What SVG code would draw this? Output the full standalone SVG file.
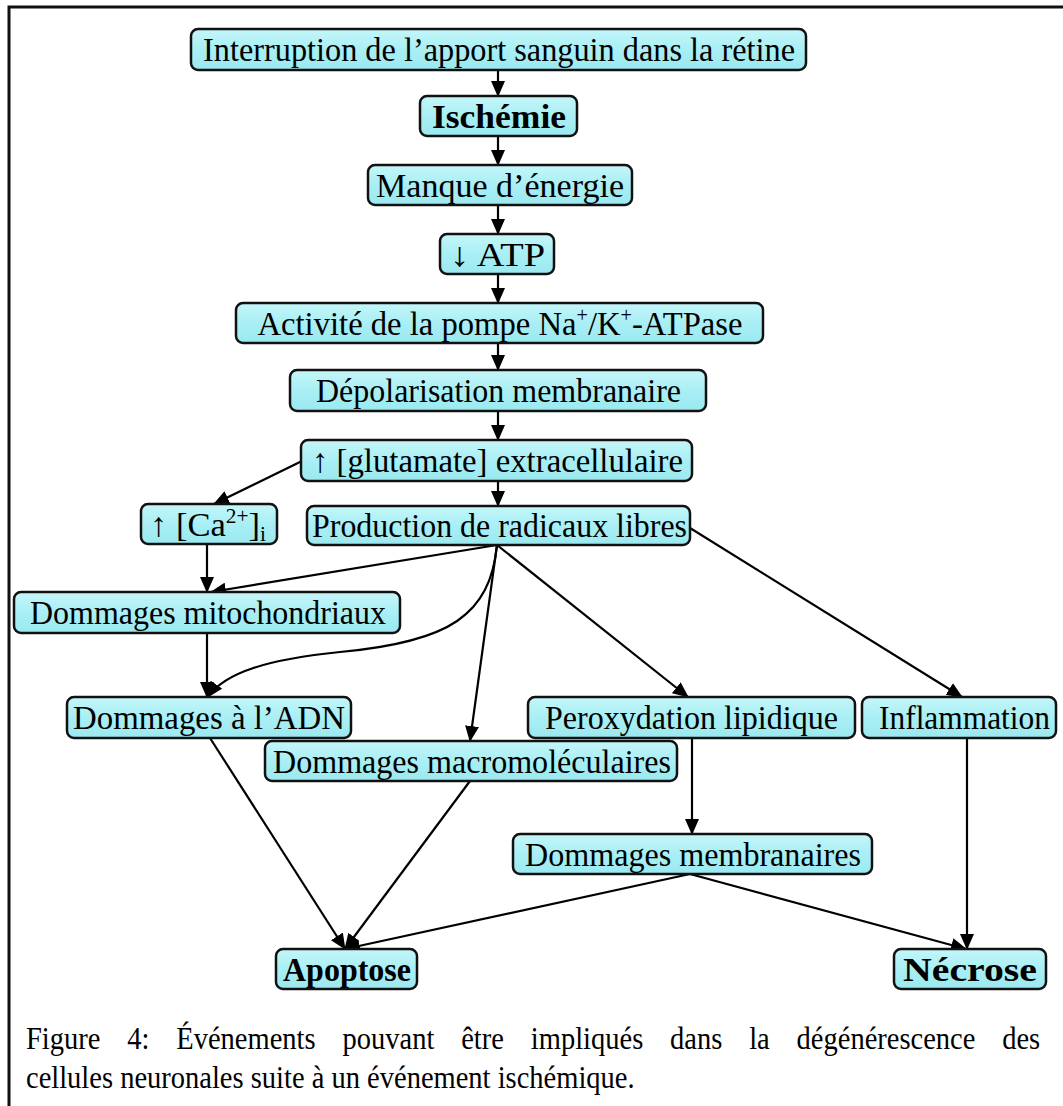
<svg xmlns="http://www.w3.org/2000/svg" width="1063" height="1106" viewBox="0 0 1063 1106">
<defs>
<linearGradient id="g" x1="0" y1="0" x2="0" y2="1">
<stop offset="0" stop-color="#c4f6f9"/>
<stop offset="0.5" stop-color="#a9eff5"/>
<stop offset="1" stop-color="#9ae9f0"/>
</linearGradient>
<marker id="ah" markerWidth="16" markerHeight="14" refX="15" refY="7" orient="auto" markerUnits="userSpaceOnUse">
<path d="M0,0 L16,7 L0,14 Z" fill="#000"/>
</marker>
<style>
.b{fill:url(#g);stroke:#111;stroke-width:2.5}
.t{font-family:"Liberation Serif","Times New Roman",serif;font-size:34px;fill:#000;text-anchor:middle}
.bd{font-weight:bold}
.sup{font-size:21px;baseline-shift:13px}
.sub{font-size:21px;baseline-shift:-5px}
.c{fill:none;stroke:#000;stroke-width:2.2;marker-end:url(#ah)}
.cap{font-family:"Liberation Serif","Times New Roman",serif;font-size:31px;fill:#000}
</style>
</defs>
<rect width="1063" height="1106" fill="#fff"/>
<path d="M9,1106 V7 H1063" fill="none" stroke="#111" stroke-width="3"/>

<g id="connectors">
<path class="c" d="M498,70 V96"/>
<path class="c" d="M498,136 V165"/>
<path class="c" d="M498,205 V234"/>
<path class="c" d="M498,274 V303"/>
<path class="c" d="M498,343 V370"/>
<path class="c" d="M498,411 V440"/>
<path class="c" d="M498,481 V506"/>
<path class="c" d="M302,461 L214,504"/>
<path class="c" d="M207,544 V592"/>
<path class="c" d="M497,545 L211,592"/>
<path class="c" d="M497,545 C490,615 450,642 340,652 C270,659 225,672 208,697"/>
<path class="c" d="M207,633 V697"/>
<path class="c" d="M497,545 L470,741"/>
<path class="c" d="M497,545 L688,697"/>
<path class="c" d="M690,528 L962,697"/>
<path class="c" d="M692,738 V834"/>
<path class="c" d="M967,738 V949"/>
<path class="c" d="M210,738 L345,949"/>
<path class="c" d="M470,781 L345,949"/>
<path class="c" d="M690,874 L345,949"/>
<path class="c" d="M690,874 L966,949"/>
</g>

<g id="n1"><rect class="b" x="191" y="29" width="615" height="41" rx="7"/><text class="t" x="499" y="61" textLength="592" lengthAdjust="spacingAndGlyphs">Interruption de l’apport sanguin dans la rétine</text></g>
<g id="n2"><rect class="b" x="420" y="96" width="157" height="40" rx="7"/><text class="t bd" x="499" y="128" textLength="134" lengthAdjust="spacingAndGlyphs">Ischémie</text></g>
<g id="n3"><rect class="b" x="368" y="165" width="264" height="40" rx="7"/><text class="t" x="500" y="197" textLength="248" lengthAdjust="spacingAndGlyphs">Manque d’énergie</text></g>
<g id="n4"><rect class="b" x="440" y="234" width="114" height="40" rx="7"/><text class="t" x="497.5" y="266" textLength="95" lengthAdjust="spacingAndGlyphs">↓ ATP</text></g>
<g id="n5"><rect class="b" x="236" y="303" width="527" height="40" rx="7"/><text class="t" x="500" y="335" textLength="485" lengthAdjust="spacingAndGlyphs">Activité de la pompe Na<tspan class="sup">+</tspan>/K<tspan class="sup">+</tspan>-ATPase</text></g>
<g id="n6"><rect class="b" x="290" y="370" width="416" height="41" rx="7"/><text class="t" x="498.5" y="402" textLength="365" lengthAdjust="spacingAndGlyphs">Dépolarisation membranaire</text></g>
<g id="n7"><rect class="b" x="301" y="440" width="391" height="41" rx="7"/><text class="t" x="497.5" y="472" textLength="371" lengthAdjust="spacingAndGlyphs">↑ [glutamate] extracellulaire</text></g>
<g id="n8"><rect class="b" x="141" y="504" width="136" height="40" rx="7"/><text class="t" x="208" y="536" textLength="116" lengthAdjust="spacingAndGlyphs">↑ [Ca<tspan class="sup">2+</tspan>]<tspan class="sub">i</tspan></text></g>
<g id="n9"><rect class="b" x="307" y="506" width="383" height="39" rx="7"/><text class="t" x="499.5" y="537" textLength="375" lengthAdjust="spacingAndGlyphs">Production de radicaux libres</text></g>
<g id="n10"><rect class="b" x="14" y="592" width="386" height="41" rx="7"/><text class="t" x="208" y="624" textLength="356" lengthAdjust="spacingAndGlyphs">Dommages mitochondriaux</text></g>
<g id="n11"><rect class="b" x="67" y="697" width="284" height="41" rx="7"/><text class="t" x="209" y="729" textLength="272" lengthAdjust="spacingAndGlyphs">Dommages à l’ADN</text></g>
<g id="n12"><rect class="b" x="528" y="697" width="327" height="41" rx="7"/><text class="t" x="691.5" y="729" textLength="293" lengthAdjust="spacingAndGlyphs">Peroxydation lipidique</text></g>
<g id="n13"><rect class="b" x="862" y="697" width="194" height="41" rx="7"/><text class="t" x="964.5" y="729" textLength="171" lengthAdjust="spacingAndGlyphs">Inflammation</text></g>
<g id="n14"><rect class="b" x="265" y="741" width="412" height="40" rx="7"/><text class="t" x="472" y="773" textLength="398" lengthAdjust="spacingAndGlyphs">Dommages macromoléculaires</text></g>
<g id="n15"><rect class="b" x="513" y="834" width="359" height="40" rx="7"/><text class="t" x="693" y="866" textLength="336" lengthAdjust="spacingAndGlyphs">Dommages membranaires</text></g>
<g id="n16"><rect class="b" x="276" y="949" width="141" height="40" rx="7"/><text class="t bd" x="347" y="981" textLength="128" lengthAdjust="spacingAndGlyphs">Apoptose</text></g>
<g id="n17"><rect class="b" x="894" y="949" width="152" height="40" rx="7"/><text class="t bd" x="970" y="981" textLength="134" lengthAdjust="spacingAndGlyphs">Nécrose</text></g>

<g id="caption">
<text class="cap" transform="scale(0.92,1)" y="1049"><tspan x="28.26">Figure</tspan> <tspan x="138.37">4:</tspan> <tspan x="191.63">Événements</tspan> <tspan x="372.28">pouvant</tspan> <tspan x="501.3">être</tspan> <tspan x="576.96">impliqués</tspan> <tspan x="728.37">dans</tspan> <tspan x="814.35">la</tspan> <tspan x="865.87">dégénérescence</tspan> <tspan x="1089.35">des</tspan></text>
<text class="cap" transform="scale(0.92,1)" x="28.26" y="1088">cellules neuronales suite à un événement ischémique.</text>
</g>
</svg>
